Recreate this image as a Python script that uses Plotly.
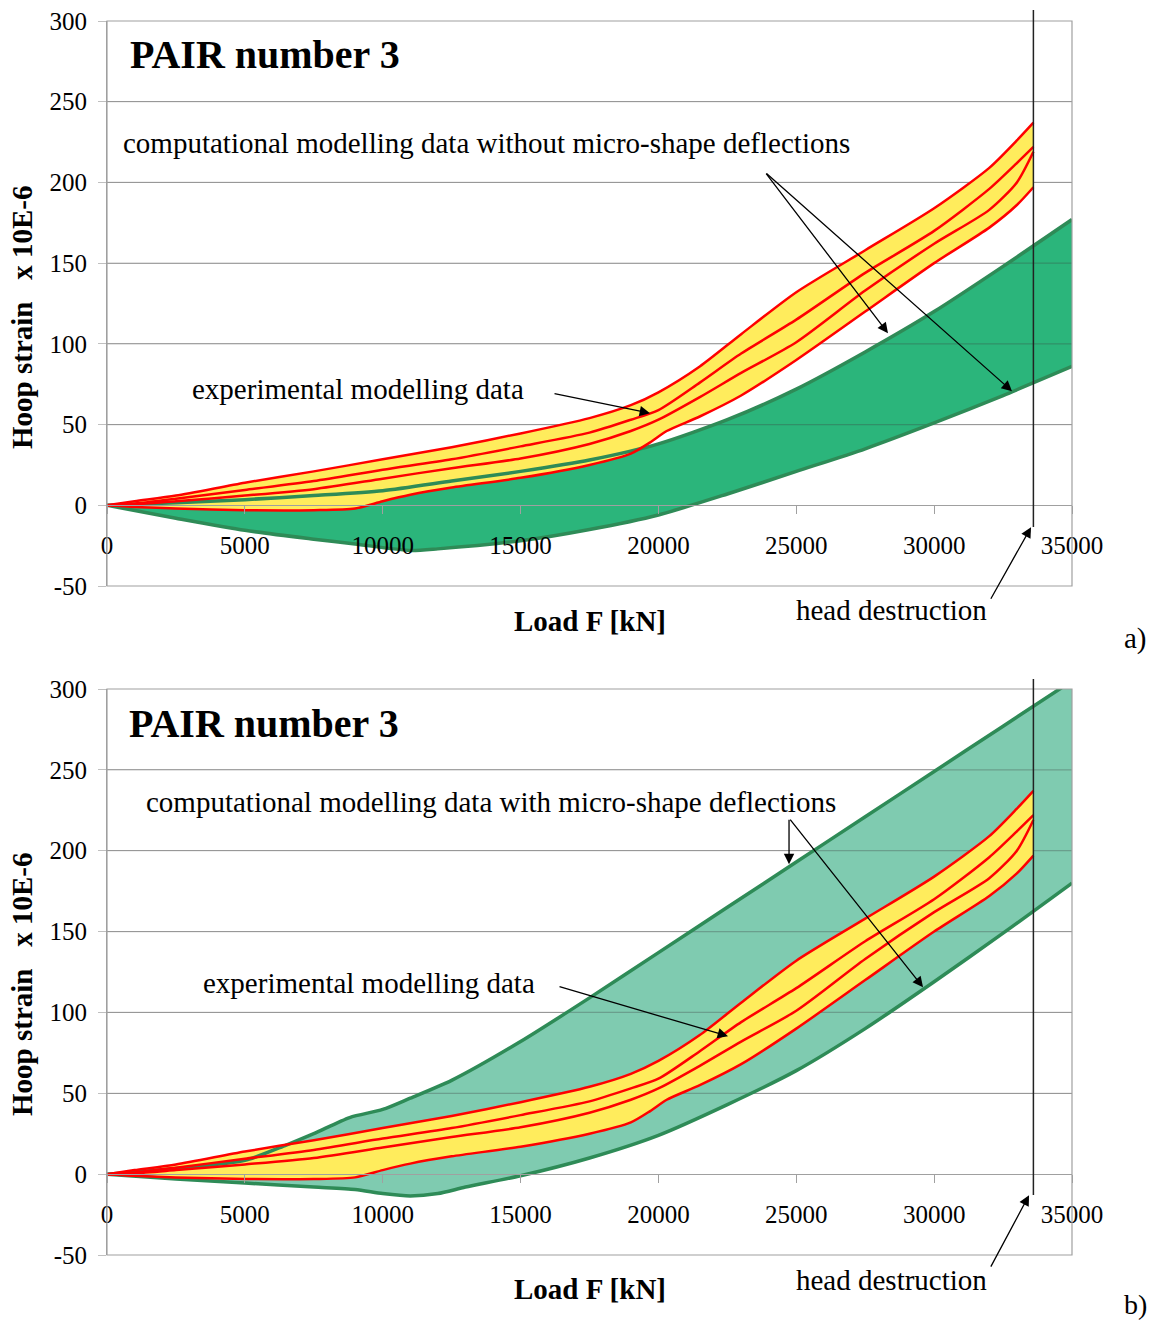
import plotly.graph_objects as go

W, H = 1153, 1321
FONT = "Liberation Serif, Times New Roman, serif"

# ---------------- data ----------------
# Experimental modelling data (same in both panels): four red curves
EXP_X = [0, 1000, 2500, 5000, 7500, 10000, 12500, 15000, 17500, 19000, 20000,
         21500, 23000, 25000, 27500, 30000, 32000, 33000, 33600]
EXP_1 = [0, 2.5, 6, 14, 21, 28.5, 36, 44.5, 54, 62, 70,
         86, 106, 132, 158, 184, 209, 226, 237]
EXP_2 = [0, 1, 4, 9.5, 15, 22, 28.5, 36.5, 45, 53, 59,
         76, 94, 115, 144, 170, 196, 212, 222]
EXP_3 = [0, 0.5, 2.5, 6, 10, 16.5, 23, 29, 38, 46, 53,
         67, 82, 101, 133, 162, 183, 200, 219]
EXP_4_X = [0, 1000, 2500, 5000, 7500, 9000, 10000, 11000, 12500, 15000, 17500,
           19000, 19700, 20300, 21500, 23000, 25000, 27500, 30000, 32000, 33000, 33600]
EXP_4 = [0, -1, -2, -3, -3, -2, 2.5, 6.5, 11, 17, 25,
         32, 39, 46, 55, 68, 90, 120, 150, 172, 186, 197]

# a) computational modelling data without micro-shape deflections
GA_X = [0, 2500, 5000, 7500, 10000, 12500, 15000, 17500, 20000, 22500, 25000,
        27500, 30000, 32500, 35000]
GA_UP = [0, 1.5, 3.5, 6, 9, 15, 21, 28, 38, 53, 72, 95, 120, 148, 177]
GA_LO_X = [0, 2500, 5000, 7500, 9000, 11000, 12000, 15000, 17500, 20000, 22500,
           25000, 27500, 30000, 32500, 35000]
GA_LO = [0, -8, -15.5, -21, -24, -28, -27, -22, -15, -6, 7, 21, 35, 51, 68, 86]

# b) computational modelling data with micro-shape deflections
GB_UP_X = [0, 2500, 5000, 6500, 7500, 8800, 10000, 11000, 12500, 15000, 17500,
           20000, 22500, 25000, 27500, 30000, 32500, 35000]
GB_UP = [0, 3.5, 8.5, 18, 25, 35, 40, 47, 58, 82, 109, 137, 165, 193, 221, 249, 277, 305]
GB_LO_X = [0, 2500, 5000, 7500, 9000, 10000, 11000, 12000, 13000, 15000, 17500,
           20000, 22500, 25000, 27500, 30000, 32500, 35000]
GB_LO = [0, -3, -5.5, -8, -9.5, -12, -13.5, -12, -8, -1, 10, 24, 43, 64, 90, 119, 149, 180]

HEAD_DESTRUCTION = 33600
X_RANGE = [0, 35000]
Y_RANGE = [-50, 300]
X_TICKS = [0, 5000, 10000, 15000, 20000, 25000, 30000, 35000]
X_TICKTEXT = ["0", "5000", "10000", "15000", "20000", "25000", "30000", "35000"]
Y_TICKS = [-50, 0, 50, 100, 150, 200, 250, 300]
Y_TICKTEXT = ["-50", "0", "50", "100", "150", "200", "250", "300"]

# ---------------- styles ----------------
RED = "#FF0000"
YELLOW = "#FFEC5C"
GREEN_EDGE = "#2E8B57"
GREEN_A_FILL = "#2BB57B"
GREEN_B_FILL = "#7FCBB0"
GRID = "#C0C0C0"
GRID_OVER = "rgba(60,60,60,0.30)"
SMOOTH = 0.7

fig = go.Figure()

def fx(px):
    return px / W

def fy(py):
    return 1 - py / H

X_DOM = [fx(107), fx(1072)]
PANELS = [
    dict(xa="x", ya="y", dom=[fy(586), fy(21)]),
    dict(xa="x2", ya="y2", dom=[fy(1255), fy(689)]),
]

def band(xa, ya, xl, yl, xu, yu, color):
    fig.add_trace(go.Scatter(
        x=xl, y=yl, mode="lines", line=dict(width=0, shape="spline", smoothing=SMOOTH),
        showlegend=False, xaxis=xa, yaxis=ya, hoverinfo="skip"))
    fig.add_trace(go.Scatter(
        x=xu, y=yu, mode="lines", line=dict(width=0, shape="spline", smoothing=SMOOTH),
        fill="tonexty", fillcolor=color,
        showlegend=False, xaxis=xa, yaxis=ya, hoverinfo="skip"))

def add_panel(i, gx_up, g_up, gx_lo, g_lo, gfill):
    xa, ya = PANELS[i]["xa"], PANELS[i]["ya"]
    band(xa, ya, gx_lo, g_lo, gx_up, g_up, gfill)
    # gridlines visible through the green band (drawn under the yellow band)
    gxs, gys = [], []
    for t in Y_TICKS[2:-1]:
        gxs += [X_RANGE[0], X_RANGE[1], None]
        gys += [t, t, None]
    fig.add_trace(go.Scatter(
        x=gxs, y=gys, mode="lines", line=dict(color=GRID_OVER, width=1.2),
        showlegend=False, xaxis=xa, yaxis=ya, hoverinfo="skip"))
    band(xa, ya, EXP_4_X, EXP_4, EXP_X, EXP_1, YELLOW)
    for gx, gy in ((gx_up, g_up), (gx_lo, g_lo)):
        fig.add_trace(go.Scatter(
            x=gx, y=gy, mode="lines",
            line=dict(color=GREEN_EDGE, width=3.5, shape="spline", smoothing=SMOOTH),
            showlegend=False, xaxis=xa, yaxis=ya))
    for ex, ey in ((EXP_X, EXP_1), (EXP_X, EXP_2), (EXP_X, EXP_3), (EXP_4_X, EXP_4)):
        fig.add_trace(go.Scatter(
            x=ex, y=ey, mode="lines",
            line=dict(color=RED, width=2.5, shape="spline", smoothing=SMOOTH),
            showlegend=False, xaxis=xa, yaxis=ya))

add_panel(0, GA_X, GA_UP, GA_LO_X, GA_LO, GREEN_A_FILL)
add_panel(1, GB_UP_X, GB_UP, GB_LO_X, GB_LO, GREEN_B_FILL)

layout = dict(
    width=W, height=H, margin=dict(l=0, r=0, t=0, b=0, autoexpand=False),
    paper_bgcolor="white", plot_bgcolor="rgba(0,0,0,0)",
    font=dict(family=FONT, color="black", size=25),
    showlegend=False,
)

shapes = []
annotations = []
for i, p in enumerate(PANELS):
    sfx = "" if i == 0 else "2"
    d0, d1 = p["dom"]
    zero_pos = d0 + (0 - Y_RANGE[0]) / (Y_RANGE[1] - Y_RANGE[0]) * (d1 - d0)
    layout["xaxis" + sfx] = dict(
        domain=X_DOM, range=X_RANGE, tickvals=X_TICKS, ticktext=X_TICKTEXT, showgrid=False,
        showline=True, linecolor="#A0A0A0", linewidth=1, ticks="outside", ticklen=8,
        tickcolor="#A0A0A0", tickfont=dict(family=FONT, size=25, color="black"),
        anchor="free", position=zero_pos, zeroline=False, ticklabelstandoff=10,
        automargin=False, fixedrange=True)
    layout["yaxis" + sfx] = dict(
        domain=[d0, d1], range=Y_RANGE, tickvals=Y_TICKS, ticktext=Y_TICKTEXT,
        showgrid=True, gridcolor=GRID, gridwidth=1.2, showline=True, linecolor="#A0A0A0",
        ticks="outside", ticklen=8, tickcolor=GRID,
        tickfont=dict(family=FONT, size=25, color="black"),
        anchor="x" + sfx, zeroline=False, ticklabelstandoff=6, automargin=False,
        fixedrange=True)
    shapes.append(dict(type="rect", xref="x%s domain" % sfx, yref="y%s domain" % sfx,
                       x0=0, x1=1, y0=0, y1=1, line=dict(color="#A0A0A0", width=1.2),
                       layer="above"))

# vertical head destruction lines
shapes.append(dict(type="line", xref="x", yref="paper", x0=HEAD_DESTRUCTION, x1=HEAD_DESTRUCTION,
                   y0=fy(527), y1=fy(10), line=dict(color="#222222", width=1.5)))
shapes.append(dict(type="line", xref="x2", yref="paper", x0=HEAD_DESTRUCTION, x1=HEAD_DESTRUCTION,
                   y0=fy(1195), y1=fy(679), line=dict(color="#222222", width=1.5)))
layout["shapes"] = shapes

def text(s, px, py, size=29, bold=False, xanchor="left", angle=0):
    annotations.append(dict(
        text="<b>%s</b>" % s if bold else s, x=fx(px), y=fy(py), xref="paper", yref="paper",
        xanchor=xanchor, yanchor="middle", showarrow=False, textangle=angle,
        font=dict(family=FONT, size=size, color="black")))

def arrow(xa, ya, x, y, ax, ay):
    annotations.append(dict(
        text="", x=x, y=y, xref=xa, yref=ya, ax=ax, ay=ay, axref="pixel", ayref="pixel",
        showarrow=True, arrowhead=2, arrowsize=1.6, arrowwidth=1.3, arrowcolor="black"))

# panel a
text("PAIR number 3", 128, 55, size=40, bold=True)
text("computational modelling data without micro-shape deflections", 121, 143)
text("experimental modelling data", 190, 389)
text("head destruction", 891, 610, xanchor="center")
text("Load F [kN]", 590, 621, size=29, bold=True, xanchor="center")
text("Hoop strain   x 10E-6", 22, 318, size=29, bold=True, xanchor="center", angle=-90)
text("a)", 1135, 638, xanchor="center")
arrow("x", "y", 28327, 106.6, -123, -161)
arrow("x", "y", 32825, 70.7, -247, -219)
arrow("x", "y", 19695, 57, -97, -20)
arrow("x", "y", 33514, -13.6, -41, 73)

# panel b
text("PAIR number 3", 127, 723, size=40, bold=True)
text("computational modelling data with micro-shape deflections", 144, 802)
text("experimental modelling data", 201, 983)
text("head destruction", 891, 1280, xanchor="center")
text("Load F [kN]", 590, 1289, size=29, bold=True, xanchor="center")
text("Hoop strain   x 10E-6", 22, 985, size=29, bold=True, xanchor="center", angle=-90)
text("b)", 1135, 1304, size=28, xanchor="center")
arrow("x2", "y2", 24737, 191.7, 0, -46)
arrow("x2", "y2", 29597, 115.6, -134, -169)
arrow("x2", "y2", 22524, 85.3, -170, -50)
arrow("x2", "y2", 33442, -13, -39, 73)

layout["annotations"] = annotations
fig.update_layout(**layout)
fig.write_html("out.html")
